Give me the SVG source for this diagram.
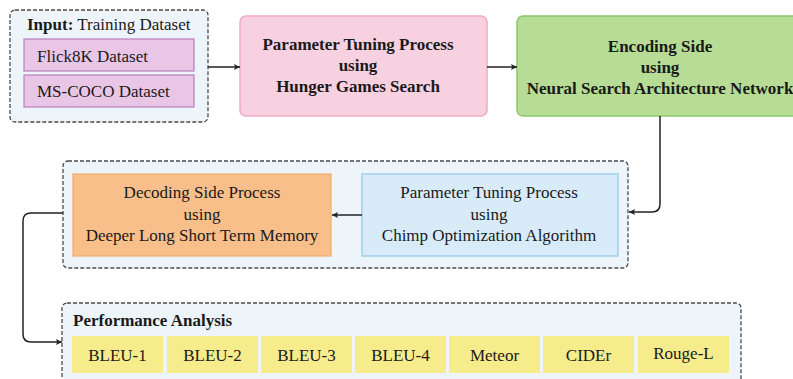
<svg xmlns="http://www.w3.org/2000/svg" width="793" height="379" viewBox="0 0 793 379">
<style>
.b{font-weight:bold}
.c{text-anchor:middle}
.cont{fill:#eef5fa;stroke:#4a4a4a;stroke-width:1.3;stroke-dasharray:4 2}
.ds{fill:#e9c6e6;stroke:#b97fbf;stroke-width:1.2}
.pink{fill:#f8d1e1;stroke:#f1a9c6;stroke-width:1.5}
.green{fill:#b6dc95;stroke:#8dc66c;stroke-width:1.5}
.orange{fill:#f8bf8b;stroke:#f4aa6c;stroke-width:1.2}
.blue{fill:#d8ebf8;stroke:#9dd0ef;stroke-width:1.5}
.yel{fill:#f6ec8c}
.conn path{fill:none;stroke:#222;stroke-width:1.5;marker-end:url(#ah)}
</style>
<defs>
<marker id="ah" viewBox="0 0 10 10" refX="10" refY="5" markerWidth="6" markerHeight="6" orient="auto" markerUnits="userSpaceOnUse">
<path d="M0 0 L10 5 L0 10 L2 5 Z" fill="#222"/>
</marker>
</defs>
<rect width="793" height="379" fill="#fff"/>

<g id="input">
<rect class="cont" x="10" y="10" width="198" height="112" rx="5"/>
<text x="27" y="30" font-family="Liberation Serif, serif" font-size="17" fill="#1a1a1a"><tspan font-weight="bold">Input:</tspan> Training Dataset</text>
<rect class="ds" x="24" y="39" width="170" height="32"/>
<text x="37" y="62" font-family="Liberation Serif, serif" font-size="17" fill="#1a1a1a">Flick8K Dataset</text>
<rect class="ds" x="24" y="75" width="170" height="32"/>
<text x="37" y="97" font-family="Liberation Serif, serif" font-size="17" fill="#1a1a1a">MS-COCO Dataset</text>
</g>

<g id="hgs">
<rect class="pink" x="240" y="16" width="247" height="100" rx="6"/>
<text class="b c" x="358" y="50" font-family="Liberation Serif, serif" font-size="17" fill="#1a1a1a">Parameter Tuning Process</text>
<text class="b c" x="358" y="71" font-family="Liberation Serif, serif" font-size="17" fill="#1a1a1a">using</text>
<text class="b c" x="358" y="92" font-family="Liberation Serif, serif" font-size="17" fill="#1a1a1a">Hunger Games Search</text>
</g>

<g id="encoding">
<rect class="green" x="517" y="16" width="290" height="100" rx="6"/>
<text class="b c" x="660" y="52" font-family="Liberation Serif, serif" font-size="17" fill="#1a1a1a">Encoding Side</text>
<text class="b c" x="660" y="73" font-family="Liberation Serif, serif" font-size="17" fill="#1a1a1a">using</text>
<text class="b c" x="660" y="94" font-family="Liberation Serif, serif" font-size="17" fill="#1a1a1a">Neural Search Architecture Network</text>
</g>

<g id="middle">
<rect class="cont" x="63" y="161" width="565" height="107" rx="5"/>
</g>

<g id="decoding">
<rect class="orange" x="73" y="174" width="258" height="82"/>
<text class="c" x="202" y="198" font-family="Liberation Serif, serif" font-size="17" fill="#1a1a1a">Decoding Side Process</text>
<text class="c" x="202" y="220" font-family="Liberation Serif, serif" font-size="17" fill="#1a1a1a">using</text>
<text class="c" x="202" y="241" font-family="Liberation Serif, serif" font-size="17" fill="#1a1a1a">Deeper Long Short Term Memory</text>
</g>

<g id="chimp">
<rect class="blue" x="362" y="174" width="256" height="82"/>
<text class="c" x="489" y="198" font-family="Liberation Serif, serif" font-size="17" fill="#1a1a1a">Parameter Tuning Process</text>
<text class="c" x="489" y="220" font-family="Liberation Serif, serif" font-size="17" fill="#1a1a1a">using</text>
<text class="c" x="489" y="241" font-family="Liberation Serif, serif" font-size="17" fill="#1a1a1a">Chimp Optimization Algorithm</text>
</g>

<g id="performance">
<rect class="cont" x="62" y="303" width="679" height="90" rx="5"/>
<text class="b" x="73" y="326" font-family="Liberation Serif, serif" font-size="17" fill="#1a1a1a">Performance Analysis</text>
<rect class="yel" x="72" y="336" width="91" height="37"/>
<text class="c" x="117.5" y="361" font-family="Liberation Serif, serif" font-size="17" fill="#1a1a1a">BLEU-1</text>
<rect class="yel" x="167" y="336" width="91" height="37"/>
<text class="c" x="212.5" y="361" font-family="Liberation Serif, serif" font-size="17" fill="#1a1a1a">BLEU-2</text>
<rect class="yel" x="261" y="336" width="91" height="37"/>
<text class="c" x="306.5" y="361" font-family="Liberation Serif, serif" font-size="17" fill="#1a1a1a">BLEU-3</text>
<rect class="yel" x="355" y="336" width="91" height="37"/>
<text class="c" x="400.5" y="361" font-family="Liberation Serif, serif" font-size="17" fill="#1a1a1a">BLEU-4</text>
<rect class="yel" x="449" y="336" width="91" height="37"/>
<text class="c" x="494.5" y="361" font-family="Liberation Serif, serif" font-size="17" fill="#1a1a1a">Meteor</text>
<rect class="yel" x="543" y="336" width="91" height="37"/>
<text class="c" x="588.5" y="361" font-family="Liberation Serif, serif" font-size="17" fill="#1a1a1a">CIDEr</text>
<rect class="yel" x="638" y="336" width="91" height="37"/>
<text class="c" x="683.5" y="359" font-family="Liberation Serif, serif" font-size="17" fill="#1a1a1a">Rouge-L</text>
</g>

<g class="conn" id="connectors">
<path d="M208 67 H240"/>
<path d="M487 67 H517"/>
<path d="M660 116 V204 Q660 212 652 212 H629"/>
<path d="M362 215 H332"/>
<path d="M63 213 H31 Q23 213 23 221 V334 Q23 342 31 342 H62"/>
</g>
</svg>
